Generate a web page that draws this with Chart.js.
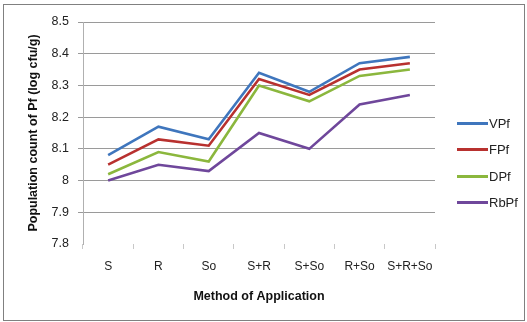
<!DOCTYPE html>
<html>
<head>
<meta charset="utf-8">
<script src="https://cdn.jsdelivr.net/npm/chart.js@4/dist/chart.umd.min.js"></script>
<style>
    body { margin: 0; background: #fff; }
    #wrap { position: relative; width: 527px; height: 322px; }
    #frame { position: absolute; left: 3px; top: 4px; width: 520px; height: 315px; border: 1.5px solid #808080; pointer-events: none; }
    #legend { position: absolute; left: 457px; top: 110px; font-family: "Liberation Sans", Arial, sans-serif; font-size: 13px; color: #222; }
    #legend .row { height: 26.5px; display: flex; align-items: center; }
    #legend .swatch { width: 31px; height: 3px; margin-right: 1px; }
</style>
</head>
<body>
<div id="wrap">
    <canvas id="lineChart" width="527" height="322"></canvas>
    <div id="frame"></div>
    <div id="legend"></div>
</div>
<script>
// === Datos ===
const categories = ['S', 'R', 'So', 'S+R', 'S+So', 'R+So', 'S+R+So'];
const seriesNames = ['VPf', 'FPf', 'DPf', 'RbPf'];
const vpf = [8.08, 8.17, 8.13, 8.34, 8.28, 8.37, 8.39];
const fpf = [8.05, 8.13, 8.11, 8.32, 8.27, 8.35, 8.37];
const dpf = [8.02, 8.09, 8.06, 8.30, 8.25, 8.33, 8.35];
const rbpf = [8.00, 8.05, 8.03, 8.15, 8.10, 8.24, 8.27];
const colors = ['#3f76bd', '#b8312f', '#8bb73d', '#6f479b'];

const FONT = '"Liberation Sans", Arial, sans-serif';

const datasets = [vpf, fpf, dpf, rbpf].map((values, i) => ({
    label: seriesNames[i],
    data: values,
    borderColor: colors[i],
    backgroundColor: colors[i],
    borderWidth: 2.6,
    pointRadius: 0,
    tension: 0
}));

// === Leyenda en HTML ===
const legend = document.getElementById('legend');
datasets.forEach(ds => {
    const row = document.createElement('div');
    row.className = 'row';
    const sw = document.createElement('span');
    sw.className = 'swatch';
    sw.style.background = ds.borderColor;
    const txt = document.createElement('span');
    txt.textContent = ds.label;
    row.appendChild(sw);
    row.appendChild(txt);
    legend.appendChild(row);
});

new Chart(document.getElementById('lineChart'), {
    type: 'line',
    data: { labels: categories, datasets: datasets },
    options: {
        responsive: false,
        animation: false,
        layout: { padding: { left: 0, top: 22, right: 92, bottom: 0 } },
        plugins: {
            legend: { display: false },
            tooltip: { enabled: false }
        },
        scales: {
            x: {
                offset: true,
                grid: {
                    offset: true,
                    drawOnChartArea: false,
                    drawTicks: true,
                    tickLength: 5,
                    color: '#c8c8c8'
                },
                border: { display: false },
                ticks: {
                    color: '#222',
                    font: { family: FONT, size: 12 },
                    padding: 10,
                    maxRotation: 0,
                    minRotation: 0,
                    autoSkip: false
                },
                title: {
                    display: true,
                    text: 'Method of Application',
                    color: '#111',
                    font: { family: FONT, size: 12.5, weight: 'bold' },
                    padding: { top: 8, bottom: 18 }
                },
                afterFit: s => { s.height = 78; }
            },
            y: {
                min: 7.8,
                max: 8.5,
                ticks: {
                    stepSize: 0.1,
                    color: '#222',
                    font: { family: FONT, size: 12.5 },
                    padding: 9,
                    callback: v => parseFloat(v.toFixed(1)).toString()
                },
                grid: {
                    tickLength: 5,
                    color: ctx => (Math.abs(ctx.tick.value - 7.8) < 1e-6 ? 'rgba(0,0,0,0)' : '#9a9a9a')
                },
                border: { display: true, color: '#b0b0b0' },
                title: {
                    display: true,
                    text: 'Population count of Pf (log cfu/g)',
                    color: '#111',
                    font: { family: FONT, size: 12.5, weight: 'bold' },
                    padding: { top: 26, bottom: 0 }
                },
                afterFit: s => { s.width = 83; }
            }
        }
    }
});
</script>
</body>
</html>
